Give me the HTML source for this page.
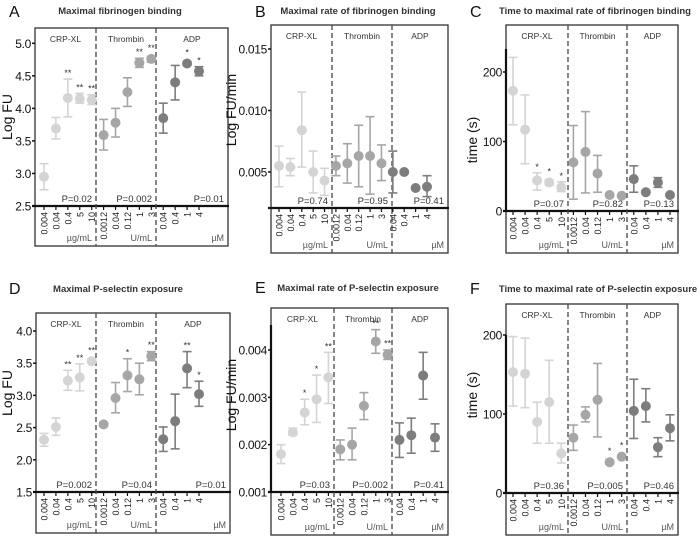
<!DOCTYPE html>
<html><head><meta charset="utf-8"><style>
html,body{margin:0;padding:0;background:#fff}
svg{display:block;font-family:"Liberation Sans",sans-serif}
</style></head><body>
<svg id="fig" width="700" height="540" viewBox="0 0 700 540"></svg>
<script>
const categories = ["0.004","0.04","0.4","5","10","0.0012","0.04","0.12","1","3","0.04","0.4","1","4"];
const groupOf = [0,0,0,0,0,1,1,1,1,1,2,2,2,2];
const groupNames = ["CRP-XL","Thrombin","ADP"];
const unitNames = ["µg/mL","U/mL","µM"];

const A_mean = [2.95,3.69,4.16,4.15,4.13, 3.59,3.78,4.25,4.70,4.76, 3.85,4.40,4.69,4.57];
const A_lo   = [2.75,3.53,3.87,4.08,4.06, 3.36,3.56,4.03,4.63,4.71, 3.62,4.13,4.67,4.50];
const A_hi   = [3.15,3.86,4.45,4.23,4.21, 3.83,4.00,4.47,4.77,4.80, 4.08,4.66,4.72,4.64];
const A_stars = ["","","**","**","**","","","","**","**","","","*","*"];
const A_p = ["P=0.02","P=0.002","P=0.01"];
const A_ticks = [2.5,3.0,3.5,4.0,4.5,5.0];
const A_tickLabels = ["2.5","3.0","3.5","4.0","4.5","5.0"];

const B_mean = [0.0055,0.0054,0.0084,0.0050,0.0043, 0.0055,0.0057,0.0063,0.0063,0.0057, 0.0050,0.0050,0.0037,0.0038];
const B_lo   = [0.0038,0.0047,0.0054,0.0033,0.0031, 0.0047,0.0041,0.0038,0.0032,0.0043, 0.0033,0.0049,0.0036,0.0030];
const B_hi   = [0.0071,0.0061,0.0115,0.0067,0.0053, 0.0063,0.0073,0.0088,0.0095,0.0072, 0.0067,0.0051,0.0038,0.0047];
const B_stars = ["","","","","","","","","","","","","",""];
const B_p = ["P=0.74","P=0.95","P=0.41"];
const B_ticks = [0.005,0.010,0.015];
const B_tickLabels = ["0.005","0.010","0.015"];

const C_mean = [173,117,44,41,34, 70,85,54,23,22, 46,27,41,23];
const C_lo   = [124,68,30,37,28, 17,26,27,21,20, 27,25,34,21];
const C_hi   = [221,167,55,45,42, 123,143,80,25,24, 65,29,48,25];
const C_stars = ["","","*","*","*","","","","","","","","",""];
const C_p = ["P=0.07","P=0.82","P=0.13"];
const C_ticks = [0,100,200];
const C_tickLabels = ["0","100","200"];

const D_mean = [2.31,2.51,3.23,3.28,3.53, 2.55,2.96,3.31,3.25,3.61, 2.32,2.60,3.42,3.02];
const D_lo   = [2.21,2.38,3.08,3.07,3.50, 2.52,2.73,3.06,3.01,3.54, 2.13,2.17,3.12,2.83];
const D_hi   = [2.41,2.65,3.39,3.49,3.56, 2.58,3.20,3.57,3.50,3.68, 2.51,3.02,3.68,3.22];
const D_stars = ["","","**","**","**","","","*","","**","","","**","*"];
const D_p = ["P=0.002","P=0.04","P=0.01"];
const D_ticks = [1.5,2.0,2.5,3.0,3.5,4.0];
const D_tickLabels = ["1.5","2.0","2.5","3.0","3.5","4.0"];

const E_mean = [0.00180,0.00226,0.00268,0.00296,0.00342, 0.00190,0.00200,0.00282,0.00418,0.00390, 0.00210,0.00220,0.00346,0.00215];
const E_lo   = [0.00160,0.00220,0.00242,0.00247,0.00287, 0.00168,0.00168,0.00253,0.00393,0.00380, 0.00173,0.00182,0.00296,0.00186];
const E_hi   = [0.00200,0.00235,0.00296,0.00347,0.00395, 0.00210,0.00235,0.00310,0.00443,0.00400, 0.00246,0.00256,0.00395,0.00244];
const E_stars = ["","","*","*","**","","","","**","**","","","",""];
const E_p = ["P=0.03","P=0.002","P=0.41"];
const E_ticks = [0.001,0.002,0.003,0.004];
const E_tickLabels = ["0.001","0.002","0.003","0.004"];

const F_mean = [153,151,90,115,50, 70,99,118,39,46, 104,110,58,82];
const F_lo   = [110,108,63,63,38, 54,90,71,37,44, 69,90,46,66];
const F_hi   = [198,196,115,168,63, 86,109,164,41,48, 144,132,70,99];
const F_stars = ["","","","","","","","","*","*","","","",""];
const F_p = ["P=0.36","P=0.005","P=0.46"];
const F_ticks = [0,100,200];
const F_tickLabels = ["0","100","200"];

const NS = "http://www.w3.org/2000/svg";
const svg = document.getElementById("fig");
const colors = ["#d4d4d4","#a6a6a6","#7d7d7d"];
function mk(tag, attrs, parent){
  const e = document.createElementNS(NS, tag);
  for (const k in attrs) e.setAttribute(k, attrs[k]);
  (parent||svg).appendChild(e);
  return e;
}
function txt(s, attrs, parent){ const t = mk("text", attrs, parent); t.textContent = s; return t; }

function drawPanel(cfg){
  const g = mk("g", {});
  
  
  const y = v => cfg.axisY - (v - cfg.v0) / (cfg.v1 - cfg.v0) * (cfg.axisY - cfg.y1);
  const n = categories.length;
  const x = i => cfg.x0 + i * (cfg.xN - cfg.x0) / (n - 1);
  const box = mk("rect", {x:cfg.L, y:cfg.T, width:cfg.R-cfg.L, height:cfg.B-cfg.T, fill:"none", stroke:"#333", "stroke-width":1.3}, g);
  
  
  const ax = mk("line", {x1:cfg.L-3, x2:cfg.R+1, y1:cfg.axisY, y2:cfg.axisY, stroke:"#111", "stroke-width":2.2}, g);
  
  
  if (cfg.thickTop){
    const la = mk("line", {x1:cfg.L, x2:cfg.L, y1:cfg.thickTop, y2:cfg.axisY, stroke:"#111", "stroke-width":2.2}, g);
    
    
  }
  cfg.div.forEach((dx, k) => {
    const d = mk("line", {x1:dx, x2:dx, y1:cfg.T, y2:cfg.B, stroke:"#444", "stroke-width":1.3, "stroke-dasharray":"5,3"}, g);
    
    
  });
  const bounds = [cfg.L, cfg.div[0], cfg.div[1], cfg.R];
  for (let k = 0; k < 3; k++){
    const cx = (bounds[k] + bounds[k+1]) / 2;
    const gl = txt(groupNames[k], {x:cx, y:cfg.T+14, "font-size":8.5, fill:"#333", "text-anchor":"middle"}, g);
    
    
    const pl = txt(cfg.p[k], {x:bounds[k+1]-4, y:cfg.axisY-4, "font-size":9.5, fill:"#333", "text-anchor":"end"}, g);
    
    
    const ul = txt(unitNames[k], {x:bounds[k+1]-4, y:cfg.B-5, "font-size":9, fill:"#555", "text-anchor":"end"}, g);
    
    
  }
  cfg.ticks.forEach((tv, k) => {
    const ty = y(tv);
    mk("line", {x1:cfg.L-3, x2:cfg.L, y1:ty, y2:ty, stroke:"#111", "stroke-width":1.5}, g);
    const tl = txt(cfg.tickLabels[k], {x:cfg.L-4, y:ty+4.5, "font-size":12, fill:"#111", "text-anchor":"end", "letter-spacing":"-0.3"}, g);
    
    
  });
  const yt = txt(cfg.ytitle, {x:cfg.ytx, y:cfg.yty, "font-size":14, fill:"#111", "text-anchor":"middle", transform:`rotate(-90 ${cfg.ytx} ${cfg.yty})`}, g);
  
  
  const ti = txt(cfg.title, {x:cfg.titleX, y:cfg.titleY, "font-size":9.5, fill:"#333", "text-anchor":"middle", "font-weight":"bold"}, g);
  
  
  const le = txt(cfg.id, {x:cfg.letX, y:cfg.letY, "font-size":16, fill:"#111"}, g);
  
  
  for (let i = 0; i < n; i++){
    const px = x(i), c = colors[groupOf[i]];
    mk("line", {x1:px, x2:px, y1:cfg.axisY, y2:cfg.axisY+4, stroke:"#111", "stroke-width":1.2}, g);
    const cl = txt(categories[i], {x:px+3.5, y:cfg.axisY+6, "font-size":9, fill:"#222", "text-anchor":"end", transform:`rotate(-90 ${px+3.5} ${cfg.axisY+6})`}, g);
    
    
    const lo = y(cfg.lo[i]), hi = y(cfg.hi[i]), m = y(cfg.mean[i]);
    const eb = mk("g", {stroke:c, "stroke-width":1.6}, g);
    
    
    mk("line", {x1:px, x2:px, y1:lo, y2:hi}, eb);
    mk("line", {x1:px-4.5, x2:px+4.5, y1:lo, y2:lo}, eb);
    mk("line", {x1:px-4.5, x2:px+4.5, y1:hi, y2:hi}, eb);
    const pt = mk("circle", {cx:px, cy:m, r:5, fill:c}, g);
    
    
    if (cfg.stars[i]){
      const st = txt(cfg.stars[i], {x:px, y:Math.min(hi, m-5)-3, "font-size":9, fill:"#333", "text-anchor":"middle"}, g);
      
      
    }
  }
}

drawPanel({id:"A", L:35,R:228,T:28,B:246, axisY:206, v0:2.5,v1:5.0,y1:43.3, x0:44,xN:199, div:[96,156],
  mean:A_mean, lo:A_lo, hi:A_hi, stars:A_stars, p:A_p, ticks:A_ticks, tickLabels:A_tickLabels,
  ytitle:"Log FU", ytx:12, yty:117, title:"Maximal fibrinogen binding", titleX:120, titleY:14, letX:9, letY:17});
drawPanel({id:"B", L:271,R:448,T:25,B:253, axisY:208, v0:0.005-36/61.5*0.005,v1:0.015,y1:49, x0:279,xN:427, div:[332,392],
  mean:B_mean, lo:B_lo, hi:B_hi, stars:B_stars, p:B_p, ticks:B_ticks, tickLabels:B_tickLabels,
  ytitle:"Log FU/min", ytx:236, yty:110, title:"Maximal rate of fibrinogen binding", titleX:358, titleY:14, letX:255, letY:17});
drawPanel({id:"C", L:506,R:678,T:25,B:253, axisY:211, v0:0,v1:200,y1:72, x0:513,xN:670, div:[568,627], thickTop:49,
  mean:C_mean, lo:C_lo, hi:C_hi, stars:C_stars, p:C_p, ticks:C_ticks, tickLabels:C_tickLabels,
  ytitle:"time (s)", ytx:477, yty:140, title:"Time to maximal rate of fibrinogen binding", titleX:595, titleY:14, letX:470, letY:17});
drawPanel({id:"D", L:36,R:230,T:313,B:533, axisY:492, v0:1.5,v1:4.0,y1:331, x0:44,xN:199, div:[96,156],
  mean:D_mean, lo:D_lo, hi:D_hi, stars:D_stars, p:D_p, ticks:D_ticks, tickLabels:D_tickLabels,
  ytitle:"Log FU", ytx:12, yty:393, title:"Maximal P-selectin exposure", titleX:118, titleY:292, letX:9, letY:294});
drawPanel({id:"E", L:271,R:448,T:308,B:535, axisY:492, v0:0.001,v1:0.004,y1:350, x0:281,xN:435, div:[334,392], thickTop:325,
  mean:E_mean, lo:E_lo, hi:E_hi, stars:E_stars, p:E_p, ticks:E_ticks, tickLabels:E_tickLabels,
  ytitle:"Log FU/min", ytx:236, yty:395, title:"Maximal rate of P-selectin exposure", titleX:358, titleY:291, letX:255, letY:293});
drawPanel({id:"F", L:506,R:678,T:304,B:535, axisY:493, v0:0,v1:200,y1:335, x0:513,xN:670, div:[568,627], thickTop:335,
  mean:F_mean, lo:F_lo, hi:F_hi, stars:F_stars, p:F_p, ticks:F_ticks, tickLabels:F_tickLabels,
  ytitle:"time (s)", ytx:477, yty:395, title:"Time to maximal rate of P-selectin exposure", titleX:598, titleY:292, letX:470, letY:294});
</script>
</body></html>
